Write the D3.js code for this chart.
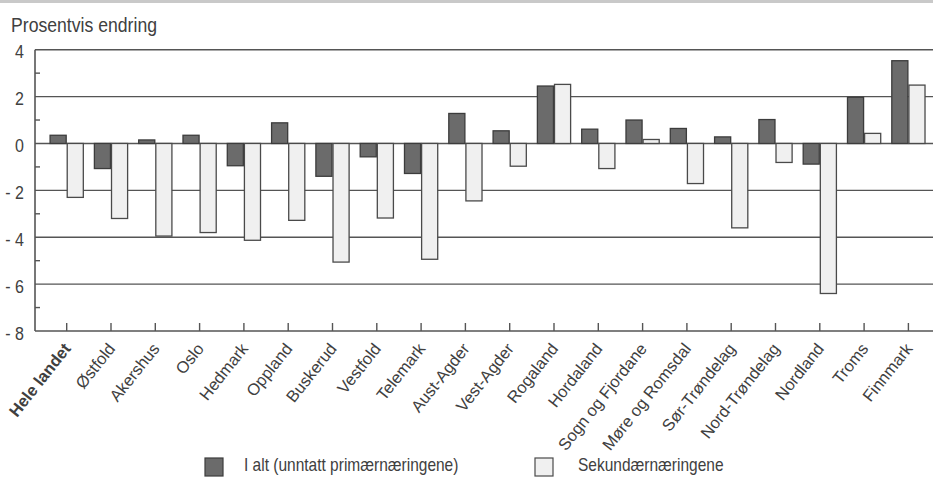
<!DOCTYPE html>
<html><head><meta charset="utf-8">
<script src="https://cdn.jsdelivr.net/npm/d3@7"></script>
<style>
html,body{margin:0;padding:0;background:#fff;}
svg{display:block;font-family:"Liberation Sans",Arial,sans-serif;}
</style></head>
<body>
<svg id="c" width="933" height="483"></svg>
<script>
const categories = ["Hele landet","Østfold","Akershus","Oslo","Hedmark","Oppland","Buskerud","Vestfold","Telemark","Aust-Agder","Vest-Agder","Rogaland","Hordaland","Sogn og Fjordane","Møre og Romsdal","Sør-Trøndelag","Nord-Trøndelag","Nordland","Troms","Finnmark"];
const totalValues = [0.35,-1.07,0.15,0.35,-0.95,0.88,-1.4,-0.57,-1.28,1.28,0.54,2.45,0.61,1.0,0.64,0.28,1.02,-0.88,1.97,3.53];
const secondaryValues = [-2.3,-3.2,-3.95,-3.8,-4.13,-3.28,-5.06,-3.18,-4.94,-2.45,-0.97,2.52,-1.07,0.17,-1.71,-3.6,-0.81,-6.4,0.43,2.49];
const seriesNames = ["I alt (unntatt primærnæringene)","Sekundærnæringene"];
const yTicks = [4,2,0,-2,-4,-6,-8];
const yMinorTicks = [3,1,-1,-3,-5,-7];
const yTitle = "Prosentvis endring";

(function(){
const svg = d3.select("#c");
const W = 933, H = 483;
const pL = 35, pR = 933, pT = 49.7, pB = 331;
const vs = 1.17;   // vertical stretch of horizontal text

svg.append("rect").attr("x",0).attr("y",0).attr("width",W).attr("height",3).attr("fill","#c9c9c9");

const y = d3.scaleLinear().domain([-8,4]).range([pB, pT]);
const x = d3.scaleBand().domain(categories).range([44.55, 930.55]).paddingInner(0.25).paddingOuter(0.125);
const xs = d3.scaleBand().domain([0,1]).range([0, x.bandwidth()]).paddingInner(0.06);

const colors = ["#6b6b6b","#f0f0f0"];
const strokes = ["#3c3c3c","#4a4a4a"];
const textCol = "#404040";

svg.append("g").selectAll("line").data(yTicks).join("line")
  .attr("x1", pL).attr("x2", pR)
  .attr("y1", d=>y(d)).attr("y2", d=>y(d))
  .attr("stroke","#555").attr("stroke-width",1.4);

svg.append("line").attr("x1",pL).attr("x2",pL).attr("y1",pT).attr("y2",pB)
  .attr("stroke","#555").attr("stroke-width",1.6);
svg.append("g").selectAll("line").data(yMinorTicks).join("line")
  .attr("x1",pL).attr("x2",pL+5).attr("y1",d=>y(d)).attr("y2",d=>y(d))
  .attr("stroke","#555").attr("stroke-width",1.4);

svg.append("g").selectAll("text").data(yTicks).join("text")
  .attr("transform", d=>`translate(24,${y(d)+8.7}) scale(1,${vs})`)
  .attr("text-anchor","end").attr("font-size",16).attr("fill",textCol)
  .text(d=> d<0 ? "- " + Math.abs(d) : String(d));

svg.append("text").attr("transform",`translate(11,32.3) scale(1,${vs})`).attr("font-size",17.5).attr("fill",textCol)
  .attr("textLength",146).attr("lengthAdjust","spacingAndGlyphs").text(yTitle);

const series = [totalValues, secondaryValues];
series.forEach((vals,si)=>{
  svg.append("g").selectAll("rect").data(vals.map((v,i)=>({v,c:categories[i]}))).join("rect")
    .attr("x", d=> x(d.c) + xs(si))
    .attr("width", xs.bandwidth())
    .attr("y", d=> y(Math.max(0,d.v)))
    .attr("height", d=> Math.abs(y(d.v)-y(0)))
    .attr("fill", colors[si]).attr("stroke", strokes[si]).attr("stroke-width",1.3);
});

svg.append("g").selectAll("line").data(categories).join("line")
  .attr("x1", d=> x(d)+x.bandwidth()/2).attr("x2", d=> x(d)+x.bandwidth()/2)
  .attr("y1", pB).attr("y2", pB-8)
  .attr("stroke","#555").attr("stroke-width",1.4);

svg.append("g").selectAll("text").data(categories).join("text")
  .attr("transform", d=> `translate(${x(d)+x.bandwidth()/2+5},${pB+18}) rotate(-51.5)`)
  .attr("text-anchor","end").attr("font-size",16.5).attr("fill",textCol)
  .attr("font-weight", (d,i)=> i===0 ? "bold" : "normal")
  .text(d=>d);

const legX = [205, 535];
const legTextX = [244, 578];
seriesNames.forEach((n,i)=>{
  svg.append("rect").attr("x",legX[i]).attr("y",458).attr("width",18).attr("height",18)
    .attr("fill",colors[i]).attr("stroke",strokes[i]).attr("stroke-width",1.2);
  svg.append("text").attr("transform",`translate(${legTextX[i]},471) scale(1,${vs})`)
    .attr("font-size",15.5).attr("fill",textCol).text(n);
});
})();
</script>
</body></html>
